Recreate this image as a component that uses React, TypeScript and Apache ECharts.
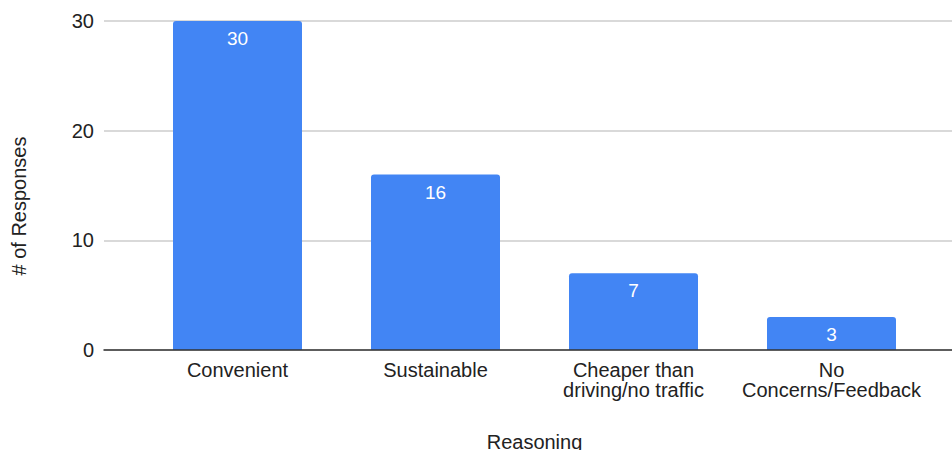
import React, { useEffect, useRef } from "react";
import * as echarts from "echarts";

const categories = ["Convenient", "Sustainable", "Cheaper than\ndriving/no traffic", "No\nConcerns/Feedback"];
const responses = [30, 16, 7, 3];
const yTicks = { min: 0, max: 30, interval: 10 };
const xTitle = "Reasoning";
const yTitle = "# of Responses";

const FONT = "'Liberation Sans', Arial, sans-serif";
const TEXT = "#222";

export default function App() {
  const ref = useRef<HTMLDivElement>(null);
  useEffect(() => {
    if (!ref.current) return;
    const chart = echarts.init(ref.current, null, { renderer: "svg" });
    chart.setOption({
      animation: false,
      textStyle: { fontFamily: FONT },
      grid: [
        { left: 104, right: 0, top: 21, bottom: 100, containLabel: false, outerBoundsMode: "none" },
        { left: 138.5, right: 21.5, top: 21, bottom: 100, containLabel: false, outerBoundsMode: "none" },
      ],
      xAxis: [
        {
          type: "category",
          gridIndex: 0,
          data: [""],
          axisLine: { show: true, lineStyle: { color: "#333", width: 1.5 } },
          axisTick: { show: false },
          axisLabel: { show: false },
          z: 5,
        },
        {
          type: "category",
          gridIndex: 1,
          data: categories,
          axisLine: { show: false },
          axisTick: { show: false },
          axisLabel: {
            color: TEXT,
            fontSize: 20,
            fontFamily: FONT,
            margin: 10,
            lineHeight: 20,
            interval: 0,
          },
          name: xTitle,
          nameLocation: "middle",
          nameGap: 82,
          nameTextStyle: { color: TEXT, fontSize: 20, fontFamily: FONT },
        },
      ],
      yAxis: [
        {
          type: "value",
          gridIndex: 0,
          min: yTicks.min,
          max: yTicks.max,
          interval: yTicks.interval,
          axisLine: { show: false },
          axisTick: { show: false },
          axisLabel: { color: TEXT, fontSize: 20, fontFamily: FONT, margin: 10 },
          splitLine: { lineStyle: { color: "#cccccc", width: 1.5 } },
        },
        {
          type: "value",
          gridIndex: 1,
          min: yTicks.min,
          max: yTicks.max,
          interval: yTicks.interval,
          axisLine: { show: false },
          axisTick: { show: false },
          axisLabel: { show: false },
          splitLine: { show: false },
        },
      ],
      graphic: [
        {
          type: "text",
          x: 19,
          y: 206,
          rotation: Math.PI / 2,
          style: {
            text: yTitle,
            fill: TEXT,
            font: `20px ${FONT}`,
            align: "center",
            verticalAlign: "middle",
          },
        },
      ],
      series: [
        {
          type: "bar",
          xAxisIndex: 1,
          yAxisIndex: 1,
          data: responses,
          barWidth: 129,
          itemStyle: { color: "#4285F4", borderRadius: [3, 3, 0, 0] },
          label: {
            show: true,
            position: "insideTop",
            distance: 8,
            color: "#ffffff",
            fontSize: 19,
            fontFamily: FONT,
          },
        },
      ],
    });
    return () => chart.dispose();
  }, []);
  return (
    <div
      ref={ref}
      style={{ position: "fixed", left: 0, top: 0, width: 952, height: 450, background: "#fff" }}
    />
  );
}
